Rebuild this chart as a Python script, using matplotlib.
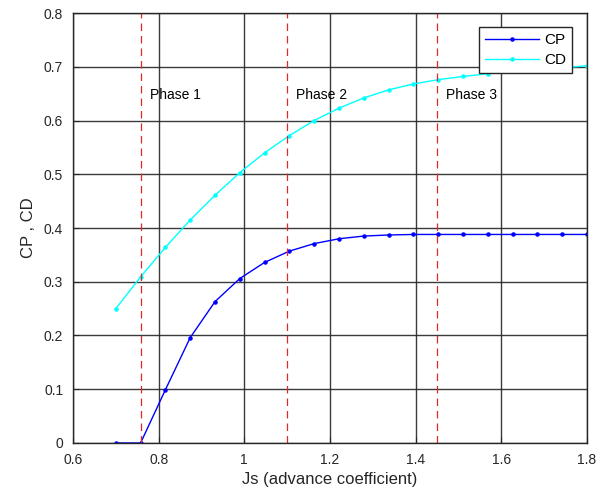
import numpy as np
import matplotlib
matplotlib.use("Agg")
import matplotlib.pyplot as plt

plt.rcParams['font.family'] = ['Liberation Sans', 'DejaVu Sans']

js = [0.7, 0.7579, 0.8158, 0.8737, 0.9316, 0.9895, 1.0474, 1.1053, 1.1632, 1.2211,
      1.2789, 1.3368, 1.3947, 1.4526, 1.5105, 1.5684, 1.6263, 1.6842, 1.7421, 1.8]
cp = [0.0, 0.0, 0.099, 0.196, 0.263, 0.306, 0.336, 0.357, 0.371, 0.380,
      0.385, 0.387, 0.388, 0.388, 0.388, 0.388, 0.388, 0.388, 0.388, 0.388]
cd = [0.250, 0.309, 0.364, 0.415, 0.461, 0.503, 0.540, 0.572, 0.600, 0.623,
      0.642, 0.657, 0.668, 0.676, 0.682, 0.687, 0.692, 0.695, 0.698, 0.702]
phase_x = [0.76, 1.10, 1.45]
phase_labels = ["Phase 1", "Phase 2", "Phase 3"]

txt = '#262626'
fig = plt.figure(figsize=(5.98, 5.01), dpi=100)
ax = fig.add_axes([0.122, 0.1158, 0.8596, 0.8582])

ax.plot(js, cp, '-', color='#0000ff', lw=1, marker='.', markersize=4.5, label='CP')
ax.plot(js, cd, '-', color='#00ffff', lw=1, marker='.', markersize=4.5, label='CD')

for x, lab in zip(phase_x, phase_labels):
    ax.axvline(x, color='#e02828', lw=0.9, linestyle=(0, (6, 4)))
    ax.text(x + 0.021, 0.647, lab, fontsize=10, color='#000000', va='center', ha='left')

ax.set_xlim(0.6, 1.8)
ax.set_ylim(0, 0.8)
ax.set_xticks([0.6, 0.8, 1.0, 1.2, 1.4, 1.6, 1.8])
ax.set_xticklabels(["0.6", "0.8", "1", "1.2", "1.4", "1.6", "1.8"])
ax.set_yticks(np.round(np.arange(0, 0.81, 0.1), 1))
ax.set_yticklabels(["0", "0.1", "0.2", "0.3", "0.4", "0.5", "0.6", "0.7", "0.8"])
ax.grid(True, color='#262626', lw=1, alpha=0.9)
ax.set_axisbelow(True)
ax.tick_params(direction='in', length=4, labelsize=10, colors=txt, pad=7)
for s in ax.spines.values():
    s.set_color('#262626')
    s.set_linewidth(1)

ax.set_xlabel("Js (advance coefficient)", fontsize=12, color=txt, labelpad=4)
ax.set_ylabel("CP , CD", fontsize=12, color=txt, labelpad=6)

leg = ax.legend(loc='upper right', bbox_to_anchor=(0.971, 0.968), fontsize=11,
                frameon=True, fancybox=False, edgecolor='#262626', framealpha=1,
                borderaxespad=0, handlelength=3.5, handletextpad=0.35,
                borderpad=0.4, labelspacing=0.4)
leg.get_frame().set_linewidth(1)
for t in leg.get_texts():
    t.set_color('#000000')

fig.savefig("out.png", dpi=100)
